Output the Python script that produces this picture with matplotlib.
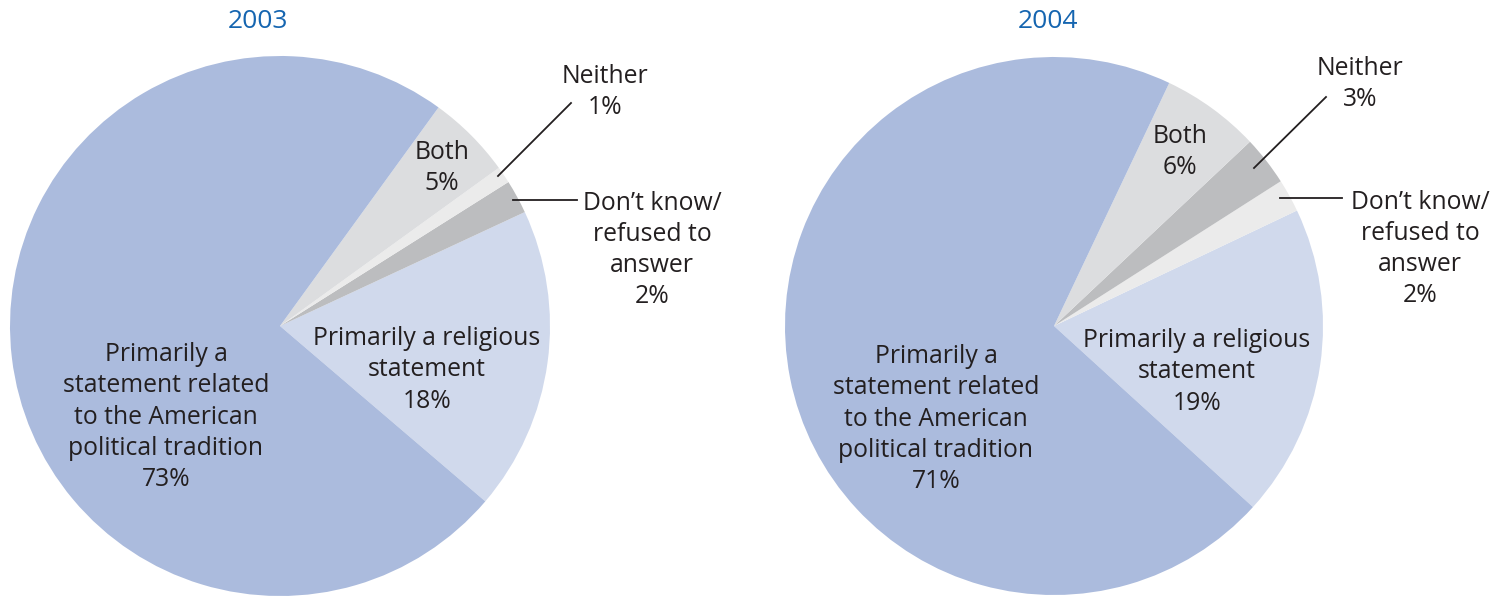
import matplotlib
matplotlib.use("Agg")
import matplotlib.pyplot as plt

W, H = 1504, 597

# data (order: counter-clockwise starting at the religious slice)
categories = ["Primarily a religious statement", "Don't know/refused to answer",
              "Neither", "Both",
              "Primarily a statement related to the American political tradition"]
values_2003 = [18, 2, 1, 5, 73]
values_2004 = [19, 2, 3, 6, 71]
years = ["2003", "2004"]

colors_2003 = ["#d0d9ec", "#bcbdbf", "#ebebeb", "#dcdddf", "#abbbdd"]
colors_2004 = ["#d0d9ec", "#ebebeb", "#bcbdbf", "#dcdddf", "#abbbdd"]

plt.rcParams["font.family"] = ["Open Sans", "DejaVu Sans"]
TXT = "#231f20"
FS = 17.8

fig = plt.figure(figsize=(W / 100, H / 100), dpi=100)
ax = fig.add_axes([0, 0, 1, 1])


def Y(y):
    # image row -> data y
    return H - y


def draw(vals, cols, cx, cy, r, start, year, title_x, lab):
    ax.pie(vals, colors=cols, startangle=start, counterclock=True,
           center=(cx, Y(cy)), radius=r,
           wedgeprops=dict(linewidth=0))
    ax.text(title_x, Y(22), year, ha="center", va="center",
            fontsize=19, color="#1565b0")
    kw = dict(ha="center", va="center", fontsize=FS, color=TXT,
              linespacing=1.33, multialignment="center")
    pol, rel, both, nei, dk = lab
    ax.text(pol[0], Y(pol[1]),
            f"Primarily a\nstatement related\nto the American\npolitical tradition\n{vals[4]}%", **kw)
    ax.text(rel[0], Y(rel[1]), f"Primarily a religious\nstatement\n{vals[0]}%", **kw)
    ax.text(both[0], Y(both[1]), f"Both\n{vals[3]}%", **kw)
    ax.text(nei[0], Y(nei[1]), f"Neither\n{vals[2]}%", **kw)
    ax.text(dk[0], Y(dk[1]), f"Don\u2019t know/\nrefused to\nanswer\n{vals[1]}%", **kw)


draw(values_2003, colors_2003, 280, 326, 270, -40.5, years[0], 258,
     [(166, 417), (427, 370), (442, 168), (605, 92), (652, 250)])
draw(values_2004, colors_2004, 1054, 326, 269, -42.3, years[1], 1048,
     [(936, 419), (1197, 372), (1180, 152), (1360, 84), (1420, 249)])

# leader lines
line_kw = dict(color=TXT, linewidth=1.3)
ax.plot([571, 498], [Y(103), Y(176)], **line_kw)
ax.plot([513, 577], [Y(200), Y(200)], **line_kw)
ax.plot([1326, 1254], [Y(97), Y(168)], **line_kw)
ax.plot([1280, 1342], [Y(198), Y(198)], **line_kw)

ax.set_xlim(0, W)
ax.set_ylim(0, H)
ax.set_aspect("auto")
ax.axis("off")

fig.savefig("out.png", dpi=100)
